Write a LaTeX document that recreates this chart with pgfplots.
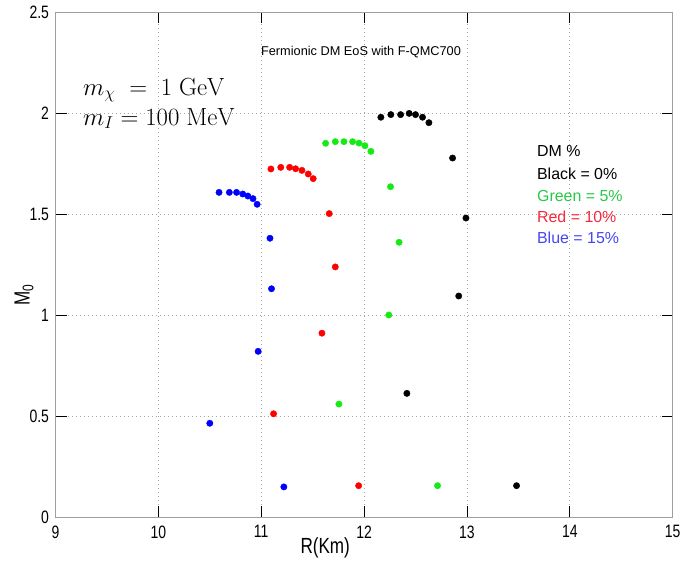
\documentclass[border=0pt]{standalone}
\usepackage[no-math]{fontspec}
\setmainfont{Liberation Sans}
\newfontfamily\narrowfont{Liberation Sans}[FakeStretch=0.78]
\usepackage{pgfplots}
\pgfplotsset{compat=1.18}
\definecolor{dmgreen}{RGB}{20,235,20}
\definecolor{txtgreen}{RGB}{40,200,70}
\definecolor{txtblue}{RGB}{70,70,240}
\definecolor{txtred}{RGB}{245,40,60}
\begin{document}
\begin{tikzpicture}
\useasboundingbox (-55.5bp,-47bp) rectangle (627.5bp,517bp);
\begin{axis}[
  at={(0,0)}, anchor=south west,
  scale only axis, width=617.2bp, height=505bp,
  xmin=9, xmax=15, ymin=0, ymax=2.5,
  xtick={9,10,...,15}, ytick={0,0.5,1,1.5,2,2.5},
  tick align=inside, tick pos=both,
  major tick length=11bp,
  every tick/.style={black, line width=0.9bp},
  axis line style={gray!75, line width=0.8bp},
  grid=major,
  major grid style={gray!70, line width=0.8bp, dash pattern=on 1bp off 3bp},
  /pgf/number format/assume math mode=true,
  tick label style={font=\narrowfont\fontsize{18}{18}\selectfont, black},
  yticklabel style={xshift=-3bp},
  xticklabel style={yshift=-5bp},
  xlabel={R(Km)},
  ylabel={M\textsubscript{0}},
  every axis x label/.style={at={(axis description cs:0.437,-0.0713)}, anchor=base, font=\narrowfont\fontsize{22}{22}\selectfont},
  every axis y label/.style={at={(axis description cs:-0.051,0.44)}, anchor=center, rotate=90, font=\narrowfont\fontsize{22}{22}\selectfont},
  clip=false,
]
\addplot[only marks, mark=*, mark size=3.2, black] coordinates {
 (12.163,1.979) (12.26,1.992) (12.355,1.992) (12.438,1.998) (12.50,1.992)
 (12.568,1.979) (12.63,1.952) (12.86,1.777) (12.99,1.48) (12.92,1.094)
 (12.416,0.612) (13.482,0.155)};
\addplot[only marks, mark=*, mark size=3.2, dmgreen] coordinates {
 (11.626,1.850) (11.72,1.858) (11.804,1.858) (11.888,1.858) (11.95,1.851)
 (12.008,1.838) (12.066,1.810) (12.257,1.635) (12.34,1.36) (12.24,1.0)
 (11.755,0.559) (12.714,0.155)};
\addplot[only marks, mark=*, mark size=3.2, red] coordinates {
 (11.094,1.723) (11.19,1.731) (11.276,1.731) (11.334,1.724) (11.396,1.716)
 (11.457,1.698) (11.505,1.675) (11.661,1.502) (11.72,1.238) (11.59,0.91)
 (11.12,0.511) (11.947,0.155)};
\addplot[only marks, mark=*, mark size=3.2, blue] coordinates {
 (10.59,1.607) (10.69,1.607) (10.76,1.607) (10.82,1.599) (10.87,1.589)
 (10.92,1.576) (10.96,1.548) (11.085,1.380) (11.10,1.13) (10.97,0.82)
 (10.50,0.464) (11.22,0.149)};
\node[anchor=base, font=\fontsize{12.8}{13}\selectfont] at (axis description cs:0.495,0.913) {Fermionic DM EoS with F-QMC700};
\node[anchor=base west, inner sep=0pt, font=\fontsize{24}{24}\selectfont] at (axis description cs:0.0446,0.8356) {$m_\chi\;=\;1\;\mathrm{GeV}$};
\node[anchor=base west, inner sep=0pt, font=\fontsize{24}{24}\selectfont] at (axis description cs:0.0446,0.776) {$m_I = 100\;\mathrm{MeV}$};
\begin{scope}[every node/.style={anchor=base west, inner sep=0pt, font=\fontsize{16}{16}\selectfont}]
\node[black] at (axis description cs:0.780,0.7135) {DM \%};
\node[black] at (axis description cs:0.780,0.6687) {Black = 0\%};
\node[txtgreen] at (axis description cs:0.780,0.6257) {Green = 5\%};
\node[txtred] at (axis description cs:0.780,0.5828) {Red = 10\%};
\node[txtblue] at (axis description cs:0.780,0.542) {Blue = 15\%};
\end{scope}
\end{axis}
\end{tikzpicture}
\end{document}
